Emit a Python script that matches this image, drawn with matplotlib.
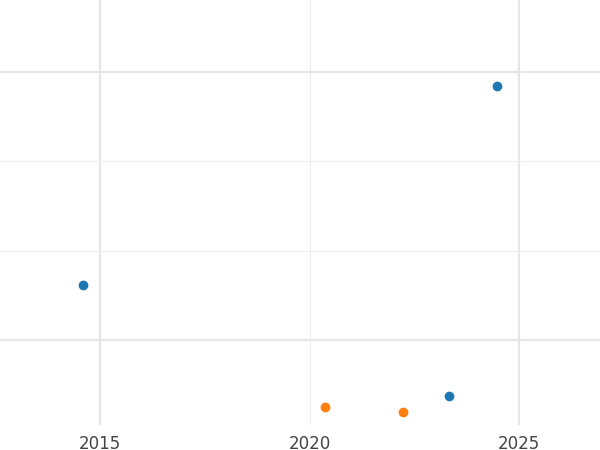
import matplotlib
matplotlib.use("Agg")
import matplotlib.pyplot as plt
from matplotlib.ticker import FixedLocator

blue_x = [2014.6, 2024.47, 2023.33]
blue_y = [1.61, 3.85, 0.37]
orange_x = [2020.37, 2022.23]
orange_y = [0.24, 0.19]
xticks = [2015, 2020, 2025]
x_major_grid = [2015, 2025]
x_minor_grid = [2020]
y_major_grid = [1, 4]
y_minor_grid = [2, 3]

fig = plt.figure(figsize=(6, 4.5), dpi=100)
ax = fig.add_axes([0, 0.056, 1, 0.944])
ax.set_xlim(2012.61, 2026.93)
ax.set_ylim(0.045, 4.81)
ax.set_xticks(xticks)
ax.set_xticklabels([str(t) for t in xticks])
ax.yaxis.set_major_locator(FixedLocator(y_major_grid))
ax.yaxis.set_minor_locator(FixedLocator(y_minor_grid))
ax.grid(False)
for v in x_major_grid:
    ax.axvline(v, color="#e6e6e6", lw=1.6, zorder=0)
for v in x_minor_grid:
    ax.axvline(v, color="#eeeeee", lw=0.8, zorder=0)
ax.grid(True, axis="y", which="major", color="#e6e6e6", lw=1.6)
ax.grid(True, axis="y", which="minor", color="#eeeeee", lw=0.8)
ax.set_axisbelow(True)
for s in ax.spines.values():
    s.set_visible(False)
ax.tick_params(axis="both", which="both", length=0, labelsize=12, labelcolor="#444444")
ax.tick_params(axis="y", which="both", labelleft=False)
ax.tick_params(axis="x", pad=7)
ax.scatter(blue_x, blue_y, s=36, color="#1f77b4", zorder=3)
ax.scatter(orange_x, orange_y, s=36, color="#ff7f0e", zorder=3)
fig.savefig("out.png", dpi=100)
